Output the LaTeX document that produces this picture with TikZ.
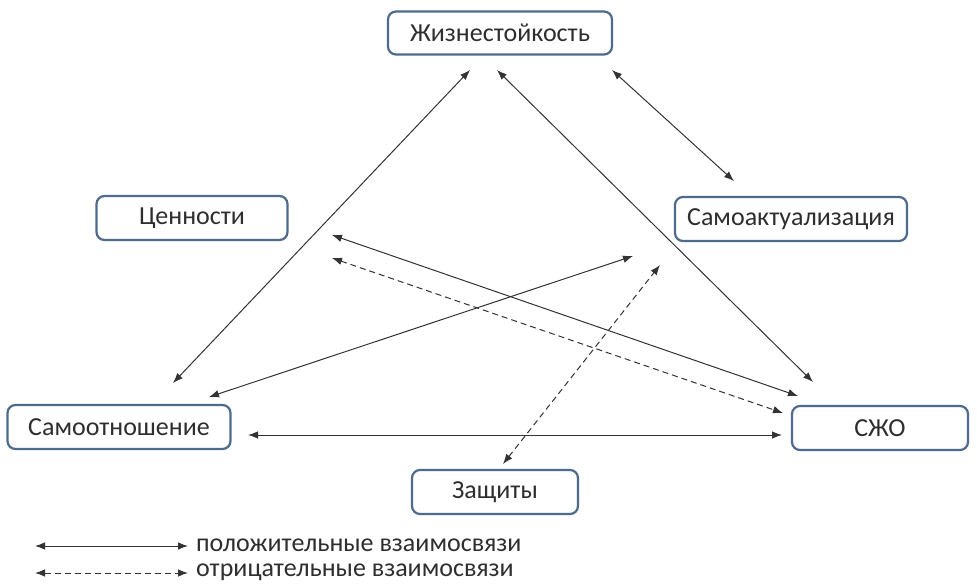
\documentclass[tikz,border=0pt]{standalone}
\usepackage{fontspec}
\setmainfont{Carlito}
\usetikzlibrary{arrows.meta}
\definecolor{boxc}{HTML}{4E6A8C}
\definecolor{txt}{HTML}{2E2E2E}
\definecolor{arr}{HTML}{333333}
\begin{document}
\begin{tikzpicture}[x=1pt,y=-1pt,
  box/.style={draw=boxc, line width=2.2pt, rounded corners=8pt, fill=white, text=txt,
    font=\fontsize{26}{29}\selectfont, inner sep=0pt},
  link/.style={draw=arr, line width=1pt, {Latex[length=10pt,width=7.5pt]}-{Latex[length=10pt,width=7.5pt]}},
  neg/.style={link, dash pattern=on 6pt off 4pt},
  legtext/.style={text=txt, font=\fontsize{26}{29}\selectfont, anchor=west, inner sep=0pt}]
\useasboundingbox[fill=white] (0,0) rectangle (977,587);
\node[box, minimum width=224pt, minimum height=43pt] (zh) at (500,33) {Жизнестойкость};
\node[box, minimum width=191pt, minimum height=44pt] (cen) at (192,218) {Ценности};
\node[box, minimum width=232pt, minimum height=44pt] (sa) at (791,219) {Самоактуализация};
\node[box, minimum width=223pt, minimum height=44pt] (so) at (119,427) {Самоотношение};
\node[box, minimum width=176pt, minimum height=44pt] (szho) at (880,428) {СЖО};
\node[box, minimum width=166pt, minimum height=44pt] (zash) at (495,492) {Защиты};
% connector ends
\coordinate (zh1) at (470,70);
\coordinate (zh2) at (497,70);
\coordinate (zh3) at (612,70);
\coordinate (so1) at (173,383);
\coordinate (so2) at (209,397);
\coordinate (so3) at (248,435);
\coordinate (sz1) at (813,382);
\coordinate (sz2) at (798,396);
\coordinate (sz3) at (783,413);
\coordinate (sz4) at (782,435);
\coordinate (sa1) at (734,181);
\coordinate (sa2) at (633,256);
\coordinate (sa3) at (660,265);
\coordinate (ce1) at (332,235);
\coordinate (ce2) at (332,258);
\coordinate (za1) at (503,464);
\draw[link] (zh1) -- (so1);
\draw[link] (zh2) -- (sz1);
\draw[link] (zh3) -- (sa1);
\draw[link] (ce1) -- (sz2);
\draw[neg] (ce2) -- (sz3);
\draw[link] (so2) -- (sa2);
\draw[neg] (za1) -- (sa3);
\draw[link] (so3) -- (sz4);
% legend
\coordinate (l1a) at (35,546);
\coordinate (l1b) at (188,546);
\coordinate (l2a) at (35,573);
\coordinate (l2b) at (188,573);
\draw[link] (l1a) -- (l1b);
\draw[neg] (l2a) -- (l2b);
\node[legtext] (lp) at (196,545) {положительные взаимосвязи};
\node[legtext] (ln) at (196,572) {отрицательные взаимосвязи};
\end{tikzpicture}
\end{document}
